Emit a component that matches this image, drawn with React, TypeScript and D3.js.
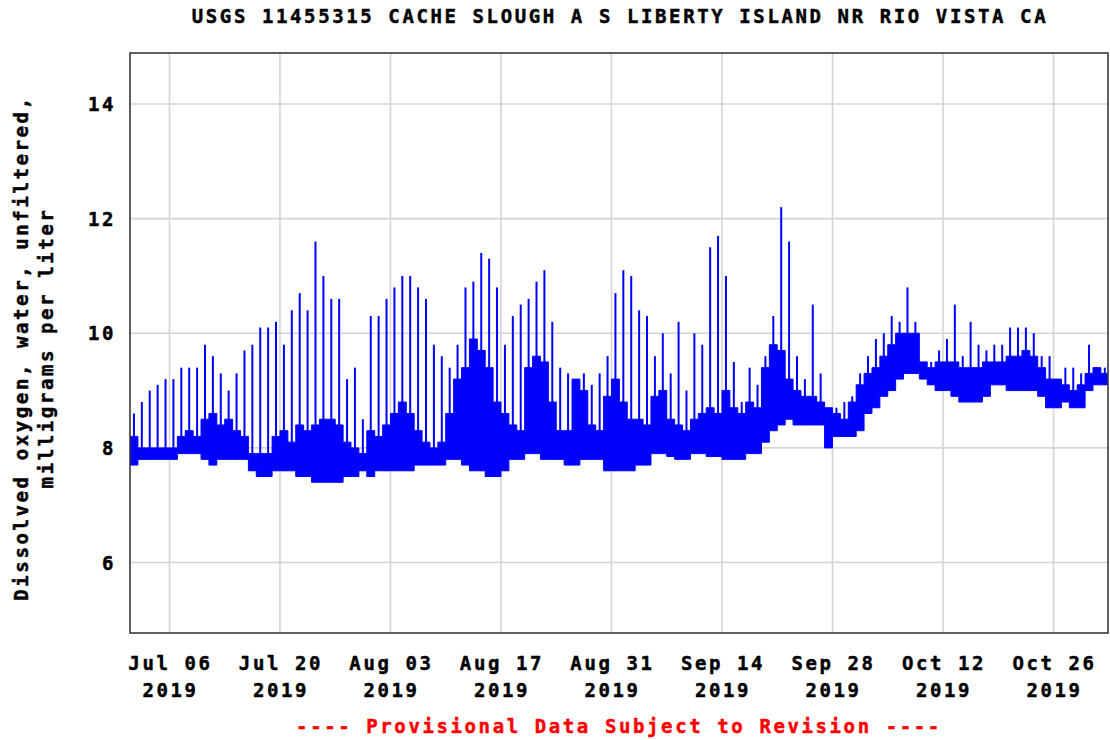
import React from "react";
import * as d3 from "d3";

const title = "USGS 11455315 CACHE SLOUGH A S LIBERTY ISLAND NR RIO VISTA CA";
const yLabelLines = ["Dissolved oxygen, water, unfiltered,", "milligrams per liter"];
const footer = "---- Provisional Data Subject to Revision ----";

// one entry per day, starting 2019-07-01
const firstDay = "2019-07-01";
const lastTime = "2019-11-01 21:40";

// daily peak (the thin spikes)
const dailyMax = [
  8.6, 8.8, 9.0, 9.1, 9.2, 9.2, 9.4, 9.4, 9.4, 9.8,
  9.6, 9.3, 9.0, 9.3, 9.7, 9.8, 10.1, 10.1, 10.2, 9.8,
  10.4, 10.7, 10.4, 11.6, 11.0, 10.6, 10.6, 9.2, 9.4, 8.5,
  10.3, 10.3, 10.6, 10.8, 11.0, 11.0, 10.8, 10.6, 9.8, 9.6,
  9.4, 9.8, 10.8, 10.9, 11.4, 11.3, 10.8, 9.8, 10.3, 10.5,
  10.6, 10.9, 11.1, 10.2, 9.4, 9.3, 9.2, 9.3, 9.1, 9.3,
  9.6, 10.7, 11.1, 11.0, 10.4, 10.3, 9.6, 10.0, 9.3, 10.2,
  9.0, 10.0, 9.8, 11.5, 11.7, 11.0, 9.5, 8.8, 9.4, 9.1,
  9.6, 10.3, 12.2, 11.6, 9.6, 9.2, 10.5, 9.3, 8.7, 8.7,
  8.8, 8.9, 9.3, 9.6, 9.9, 10.0, 10.3, 10.2, 10.8, 10.2,
  9.5, 9.5, 9.7, 9.9, 10.5, 9.6, 10.2, 9.8, 9.7, 9.8,
  9.8, 10.1, 10.1, 10.1, 10.0, 9.6, 9.6, 9.2, 9.4, 9.4,
  9.3, 9.8, 9.4, 9.4,
];

// upper edge of the dense daily band
const dailyHigh = [
  8.2, 8.0, 8.0, 8.0, 8.0, 8.0, 8.2, 8.3, 8.2, 8.5,
  8.6, 8.4, 8.5, 8.3, 8.2, 7.9, 7.9, 7.9, 8.2, 8.3,
  8.1, 8.4, 8.3, 8.4, 8.5, 8.5, 8.4, 8.1, 8.0, 7.9,
  8.3, 8.2, 8.4, 8.6, 8.8, 8.6, 8.3, 8.1, 8.0, 8.1,
  8.6, 9.2, 9.4, 9.9, 9.7, 9.4, 8.8, 8.6, 8.4, 8.3,
  9.4, 9.6, 9.5, 8.8, 8.3, 8.3, 9.2, 9.0, 8.4, 8.3,
  8.9, 9.2, 8.8, 8.5, 8.5, 8.4, 8.9, 9.0, 8.5, 8.4,
  8.3, 8.5, 8.6, 8.7, 8.6, 9.0, 8.7, 8.6, 8.8, 8.7,
  9.4, 9.8, 9.7, 9.2, 9.0, 8.9, 8.9, 8.8, 8.7, 8.6,
  8.5, 8.8, 9.1, 9.3, 9.4, 9.6, 9.8, 10.0, 10.0, 10.0,
  9.5, 9.4, 9.5, 9.5, 9.5, 9.4, 9.4, 9.4, 9.5, 9.5,
  9.5, 9.6, 9.6, 9.7, 9.6, 9.4, 9.2, 9.2, 9.1, 9.0,
  9.1, 9.3, 9.4, 9.3,
];

// daily low
const dailyLow = [
  7.7, 7.8, 7.8, 7.8, 7.8, 7.8, 7.9, 7.9, 7.9, 7.8,
  7.7, 7.8, 7.8, 7.8, 7.8, 7.6, 7.5, 7.5, 7.6, 7.6,
  7.6, 7.5, 7.5, 7.4, 7.4, 7.4, 7.4, 7.5, 7.5, 7.6,
  7.5, 7.6, 7.6, 7.6, 7.6, 7.6, 7.7, 7.7, 7.7, 7.7,
  7.8, 7.8, 7.7, 7.6, 7.6, 7.5, 7.5, 7.6, 7.8, 7.8,
  7.9, 7.9, 7.8, 7.8, 7.8, 7.7, 7.7, 7.8, 7.8, 7.8,
  7.6, 7.6, 7.6, 7.6, 7.7, 7.7, 7.9, 7.9, 7.85, 7.8,
  7.8, 7.9, 7.9, 7.85, 7.85, 7.8, 7.8, 7.8, 7.9, 7.9,
  8.1, 8.3, 8.4, 8.5, 8.4, 8.4, 8.4, 8.4, 8.0, 8.2,
  8.2, 8.2, 8.3, 8.6, 8.7, 8.9, 9.0, 9.2, 9.3, 9.3,
  9.2, 9.1, 9.0, 9.0, 8.9, 8.8, 8.8, 8.8, 8.9, 9.1,
  9.1, 9.0, 9.0, 9.0, 9.0, 8.9, 8.7, 8.7, 8.8, 8.7,
  8.7, 9.0, 9.1, 9.1,
];

const xTickDays = [
  "2019-07-06", "2019-07-20", "2019-08-03", "2019-08-17", "2019-08-31",
  "2019-09-14", "2019-09-28", "2019-10-12", "2019-10-26",
];
const yTicks = [6, 8, 10, 12, 14];
const yDomain = [4.77, 14.89];

const width = 1110;
const height = 740;
const margin = { top: 53, right: 2, bottom: 107, left: 130 };
const font = "'DejaVu Sans Mono', monospace";
const blue = "#0000ff";

const parseDay = d3.timeParse("%Y-%m-%d");
const parseTime = d3.timeParse("%Y-%m-%d %H:%M");
const fmtTop = d3.timeFormat("%b %d");
const fmtYear = d3.timeFormat("%Y");

type BandPt = { t: Date; hi: number; lo: number };

export default function App() {
  const start = parseDay(firstDay)!;
  const end = parseTime(lastTime)!;
  const days = dailyMax.map((_, i) => d3.timeDay.offset(start, i));

  const x = d3
    .scaleTime()
    .domain([start, end])
    .range([margin.left, width - margin.right]);
  const y = d3
    .scaleLinear()
    .domain(yDomain)
    .range([height - margin.bottom, margin.top]);

  // band: one step per day, closed off at the end of the last day
  const band: BandPt[] = days.map((d, i) => ({ t: d, hi: dailyHigh[i], lo: dailyLow[i] }));
  band.push({ ...band[band.length - 1], t: d3.timeDay.offset(start, days.length) });
  const bandArea = d3
    .area<BandPt>()
    .x(d => x(d.t))
    .y0(d => y(d.lo))
    .y1(d => y(d.hi))
    .curve(d3.curveStepAfter);

  const xTicks = xTickDays.map(s => parseDay(s)!);
  const plotW = width - margin.left - margin.right;
  const plotH = height - margin.top - margin.bottom;

  const textStyle = {
    fontSize: 19,
    letterSpacing: 2.6,
    stroke: "currentColor",
    strokeWidth: 0.45,
  } as const;

  return (
    <svg
      width={width}
      height={height}
      style={{ position: "absolute", left: 0, top: 0, background: "#fff" }}
      fontFamily={font}
      fontWeight="bold"
    >
      <defs>
        <clipPath id="plot">
          <rect x={margin.left} y={margin.top} width={plotW} height={plotH} />
        </clipPath>
      </defs>

      {/* grid */}
      <g stroke="#d4d4d4" strokeWidth={1.6}>
        {yTicks.map(v => (
          <line key={v} x1={margin.left} x2={width - margin.right} y1={y(v)} y2={y(v)} />
        ))}
        {xTicks.map(t => (
          <line key={+t} x1={x(t)} x2={x(t)} y1={margin.top} y2={height - margin.bottom} />
        ))}
      </g>

      {/* data */}
      <g clipPath="url(#plot)">
        <path d={bandArea(band)!} fill={blue} stroke={blue} strokeWidth={1} />
        {days.map((d, i) => {
          const cx = x(d3.timeHour.offset(d, 12));
          return (
            <line
              key={i}
              x1={cx}
              x2={cx}
              y1={y(dailyLow[i])}
              y2={y(dailyMax[i])}
              stroke={blue}
              strokeWidth={2}
            />
          );
        })}
      </g>

      {/* frame */}
      <rect
        x={margin.left}
        y={margin.top}
        width={plotW}
        height={plotH}
        fill="none"
        stroke="#3a3a3a"
        strokeWidth={1.6}
      />

      {/* y ticks */}
      <g style={{ ...textStyle, color: "#000" }} textAnchor="end" fill="#000">
        {yTicks.map(v => (
          <text key={v} x={116} y={y(v) + 7}>
            {v}
          </text>
        ))}
      </g>

      {/* x ticks */}
      <g style={{ ...textStyle, color: "#000" }} textAnchor="middle" fill="#000">
        {xTicks.map(t => (
          <g key={+t}>
            <text x={x(t) + 1} y={670}>
              {fmtTop(t)}
            </text>
            <text x={x(t) + 1} y={697}>
              {fmtYear(t)}
            </text>
          </g>
        ))}
      </g>

      {/* title */}
      <text
        x={620}
        y={23}
        style={{ ...textStyle, color: "#000" }}
        textAnchor="middle"
        fill="#000"
      >
        {title}
      </text>

      {/* y label */}
      <g style={{ ...textStyle, color: "#000" }} textAnchor="middle" fill="#000">
        {yLabelLines.map((s, i) => (
          <text key={i} transform={`translate(${28 + i * 25},348) rotate(-90)`}>
            {s}
          </text>
        ))}
      </g>

      {/* footer */}
      <text
        x={619}
        y={733}
        style={{ ...textStyle, color: "#ff0000" }}
        textAnchor="middle"
        fill="#ff0000"
      >
        {footer}
      </text>
    </svg>
  );
}
